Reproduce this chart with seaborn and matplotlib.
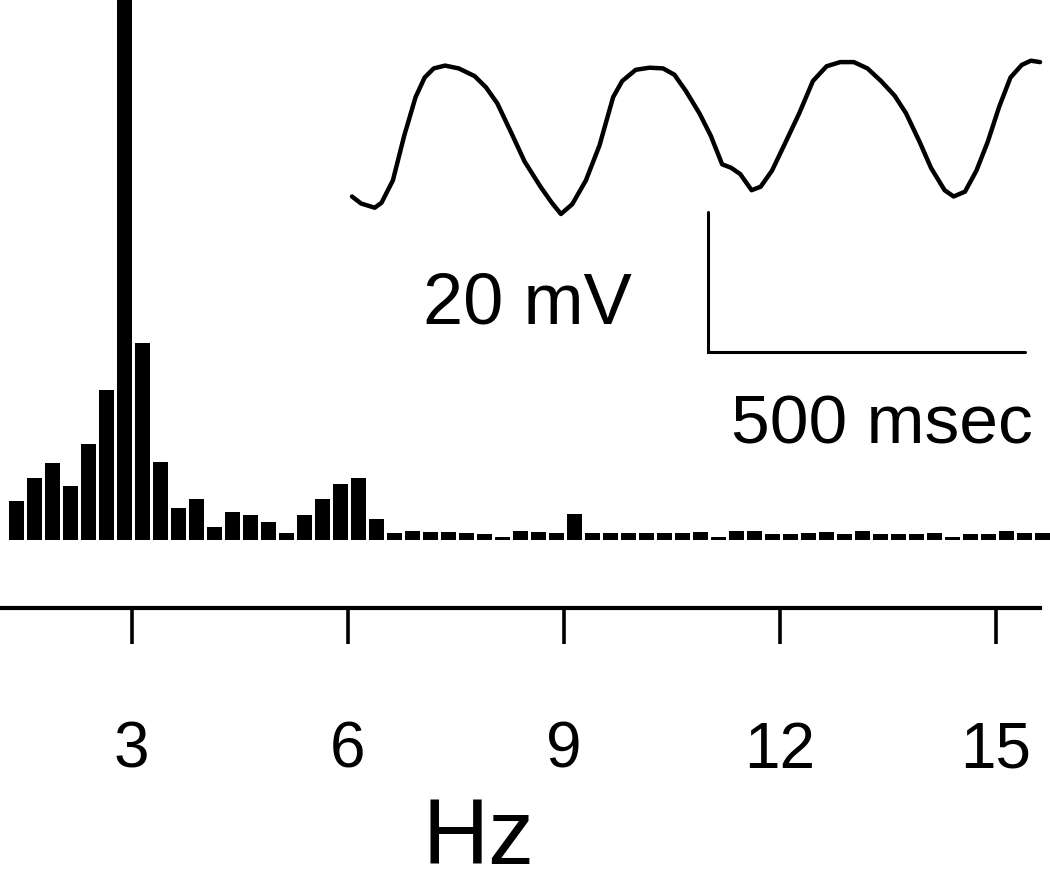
import numpy as np
import pandas as pd
import matplotlib
matplotlib.use("Agg")
import matplotlib.pyplot as plt
import seaborn as sns

# ---- data -------------------------------------------------------------
# power spectrum: 0.25 Hz bins (arbitrary power units)
freqs = [1.4 + 0.25 * i for i in range(58)]
power = [39, 62, 77, 54, 96, 150, 600, 197, 78, 32,
         41, 13, 28, 25, 18, 7, 25, 41, 56, 62,
         21, 7, 9, 8, 8, 7, 6, 3, 9, 8,
         7, 26, 7, 7, 7, 7, 7, 7, 8, 3,
         9, 9, 6, 6, 7, 8, 6, 9, 6, 6,
         6, 7, 3, 6, 6, 9, 7, 7]
tick_values = [3, 6, 9, 12, 15]
tick_labels = ["3", "6", "9", "12", "15"]

# membrane potential trace (ms, mV relative)
trace_t = [0, 14.3, 35.8, 46.5, 64.5, 82.4, 100.3, 114.6, 128.9, 146.8,
           168.3, 193.4, 211.3, 229.2, 250.7, 272.2, 297.3, 315.2, 329.5, 347.4,
           368.9, 390.4, 411.9, 426.2, 447.6, 469.1, 490.6, 508.5, 526.4, 547.9,
           565.8, 583.8, 598.1, 612.4, 630.3, 644.6, 662.5, 684.1, 705.5, 727.0,
           748.5, 770.0, 791.5, 813.0, 834.4, 855.9, 873.8, 895.3, 913.2, 934.7,
           949.0, 966.9, 984.9, 1002.7, 1020.7, 1038.6, 1056.5, 1070.8, 1085.2]
trace_v = [2.5, 1.5, 0.9, 1.6, 4.8, 11.2, 16.7, 19.5, 20.8, 21.2,
           20.8, 19.7, 18.1, 15.8, 11.7, 7.5, 3.9, 1.6, 0.0, 1.4,
           4.8, 9.8, 16.7, 19.0, 20.6, 20.9, 20.8, 19.9, 17.6, 14.4,
           11.2, 7.1, 6.6, 5.7, 3.4, 3.9, 6.2, 10.3, 14.4, 19.0,
           21.1, 21.7, 21.7, 20.8, 19.0, 16.9, 14.4, 10.3, 6.6, 3.4,
           2.5, 3.2, 6.2, 10.3, 15.3, 19.5, 21.3, 21.9, 21.7]
scale_t0, scale_ms = 561.5, 500
scale_v0, scale_mv = -19.7, 20

# ---- figure ------------------------------------------------------------
sns.set_style("white")
plt.rcParams["font.family"] = ["Liberation Sans", "DejaVu Sans"]
plt.rcParams["text.color"] = "black"
plt.rcParams["xtick.color"] = "black"
plt.rcParams["xtick.labelcolor"] = "black"
plt.rcParams["axes.labelcolor"] = "black"

W, H = 1050, 882
fig = plt.figure(figsize=(W / 100, H / 100), dpi=100)

# main spectrum axes: bottom spine at y=608 px, bars baseline at y=540 px
ax = fig.add_axes([0, (H - 608) / H, 1, 608 / H])
df = pd.DataFrame({"freq": freqs, "power": power})
sns.barplot(data=df, x="freq", y="power", native_scale=True, color="black",
            width=0.84, linewidth=0, errorbar=None, saturation=1, ax=ax)
a0, k = -84.4, 72.0          # px = a0 + k * Hz
x_lo = (0 - a0) / k
x_hi = (W - a0) / k
ax.set_xlim(x_lo, x_hi)
ax.set_ylim(-68, 540)
for s in ["top", "left", "right"]:
    ax.spines[s].set_visible(False)
ax.spines["bottom"].set_linewidth(3.0)
ax.spines["bottom"].set_color("black")
ax.spines["bottom"].set_bounds(x_lo, (1040 - a0) / k)
ax.set_yticks([])
ax.set_ylabel("")
ax.set_xticks(tick_values)
ax.set_xticklabels(tick_labels)
ax.tick_params(axis="x", direction="out", length=26, width=2.6, color="black",
               pad=55, labelsize=46, bottom=True, labelcolor="black")
ax.set_xlabel("Hz", fontsize=66, color="black")
ax.xaxis.set_label_coords(478 / W, (608 - 864) / 608)
ax.xaxis.label.set_va("baseline")
ax.patch.set_alpha(0)

# inset trace with scale bars
px_per_ms = 0.634
px_per_mv = 7.0
il, ir, it, ib = 340, 1050, 40, 360
t_lo = (il - 352) / px_per_ms
t_hi = (ir - 352) / px_per_ms
v_hi = (214 - it) / px_per_mv
v_lo = (214 - ib) / px_per_mv
ax2 = fig.add_axes([il / W, (H - ib) / H, (ir - il) / W, (ib - it) / H])
sns.lineplot(x=trace_t, y=trace_v, sort=False, estimator=None, color="black",
             linewidth=3.2, solid_joinstyle="round", solid_capstyle="round", ax=ax2)
ax2.plot([scale_t0, scale_t0, scale_t0 + scale_ms],
         [scale_v0 + scale_mv, scale_v0, scale_v0], color="black", linewidth=2.2,
         solid_joinstyle="miter")
ax2.set_xlim(t_lo, t_hi)
ax2.set_ylim(v_lo, v_hi)
ax2.axis("off")
ax2.text((527 - 352) / px_per_ms, (214 - 323) / px_per_mv, "20 mV", ha="center",
         va="baseline", fontsize=52, color="black", clip_on=False)
ax2.text((882 - 352) / px_per_ms, (214 - 443) / px_per_mv, "500 msec", ha="center",
         va="baseline", fontsize=50, color="black", clip_on=False)

fig.savefig("out.png", dpi=100)
